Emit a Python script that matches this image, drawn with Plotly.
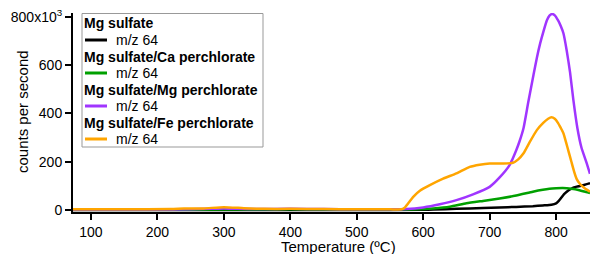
import plotly.graph_objects as go

# ---------------- data (counts per second, in units of 10^3) ----------------
series_names = ["Mg sulfate", "Mg sulfate/Ca perchlorate",
                "Mg sulfate/Mg perchlorate", "Mg sulfate/Fe perchlorate"]
item_label = "m/z 64"
colors = ["#000000", "#00a000", "#a035ff", "#ffa500"]

t_black = [73, 200, 300, 400, 500, 600, 615, 650, 690, 715, 740, 765, 780, 793,
           800, 804, 808, 812, 816, 820, 824, 827, 831, 836, 842, 851]
v_black = [0, 0, 0, 0, 0, 1, 2, 5, 9, 11, 13, 16, 19, 22,
           28, 38, 52, 66, 76, 84, 90, 94, 97, 100, 104, 111]

t_green = [73, 200, 300, 400, 500, 560, 590, 615, 640, 665, 690, 715, 740, 765,
           780, 790, 800, 810, 823, 835, 845, 851]
v_green = [1, 1, 2, 3, 2, 2, 3, 7, 14, 28, 38, 48, 60, 76,
           84, 88, 90, 91, 88, 82, 75, 71]

t_purple = [73, 200, 250, 280, 300, 320, 350, 400, 450, 500, 550, 575, 600, 625,
            650, 675, 700, 715, 730, 740, 745, 751, 758, 766, 771, 776, 781, 786,
            790, 794, 798, 803, 807, 811, 816, 821, 826, 832, 838, 846, 851]
v_purple = [2, 2, 3, 5, 7, 5, 4, 5, 4, 3, 3, 4, 11, 24,
            41, 65, 96, 135, 186, 248, 285, 340, 445, 560, 630, 690, 740, 785,
            805, 812, 806, 785, 762, 732, 660, 570, 455, 340, 260, 194, 150]

t_orange = [73, 150, 220, 240, 270, 300, 330, 360, 400, 450, 500, 550, 567, 572,
            578, 585, 595, 610, 630, 650, 670, 685, 700, 720, 735, 743, 751, 760,
            771, 781, 788, 793, 798, 803, 807, 811, 815, 819, 823, 827, 831, 836,
            843, 851]
v_orange = [3, 3, 4, 6, 7, 12, 8, 5, 5, 4, 3, 3, 3, 10,
            30, 55, 80, 103, 130, 152, 179, 188, 193, 193, 196, 210, 235, 280,
            331, 362, 378, 384, 378, 360, 340, 318, 280, 240, 200, 160, 128, 108,
            90, 76]

x_tickvals = [100, 200, 300, 400, 500, 600, 700, 800]
y_tickvals = [0, 200, 400, 600, 800]
y_ticktext = ["0", "200", "400", "600", "800x10<sup>3</sup>"]

x_title = "Temperature (ºC)"
y_title = "counts per second"

# ---------------- figure ----------------
W, H = 590, 254
L, R, T, B = 73, 0, 13, 42
PW, PH = W - L - R, H - T - B
FONT = "Liberation Sans, Arial, sans-serif"


def px(x):
    return (x - L) / PW


def py(y):
    return (H - B - y) / PH


fig = go.Figure()
all_t = [t_black, t_green, t_purple, t_orange]
all_v = [v_black, v_green, v_purple, v_orange]
for name, col, tt, vv in zip(series_names, colors, all_t, all_v):
    fig.add_trace(go.Scatter(x=tt, y=vv, mode="lines", name=name,
                             line=dict(color=col, width=2.5, shape="spline",
                                       smoothing=0.5),
                             showlegend=False, hoverinfo="skip"))

axis_common = dict(showline=True, linecolor="black", linewidth=2,
                   ticks="outside", ticklen=6, tickwidth=1.5, tickcolor="black",
                   showgrid=False, zeroline=False, automargin=False,
                   tickfont=dict(family=FONT, size=14, color="black"))

fig.update_xaxes(range=[73, 851], tickvals=x_tickvals, **axis_common)
fig.update_yaxes(range=[-8, 816], tickvals=y_tickvals, ticktext=y_ticktext,
                 **axis_common)

annotations = []
shapes = []
# axis titles
annotations.append(dict(text=x_title, xref="paper", yref="paper",
                        x=px(338), y=py(246.5), xanchor="center", yanchor="middle",
                        showarrow=False,
                        font=dict(family=FONT, size=15, color="black")))
annotations.append(dict(text=y_title, xref="paper", yref="paper",
                        x=px(22), y=py(112), xanchor="center", yanchor="middle",
                        textangle=-90, showarrow=False,
                        font=dict(family=FONT, size=15, color="black")))

# legend box
shapes.append(dict(type="rect", xref="paper", yref="paper",
                   x0=px(82), x1=px(263), y0=py(13.5), y1=py(147),
                   line=dict(color="#999999", width=1), fillcolor="white",
                   layer="above"))
for i, (name, col) in enumerate(zip(series_names, colors)):
    ty = 23.5 + 33 * i
    iy = ty + 16.5
    annotations.append(dict(text="<b>" + name + "</b>", xref="paper", yref="paper",
                            x=px(81.5), y=py(ty), xanchor="left", yanchor="middle",
                            showarrow=False,
                            font=dict(family=FONT, size=14, color="black")))
    shapes.append(dict(type="line", xref="paper", yref="paper",
                       x0=px(85), x1=px(107), y0=py(iy), y1=py(iy),
                       line=dict(color=col, width=3), layer="above"))
    annotations.append(dict(text=item_label, xref="paper", yref="paper",
                            x=px(114), y=py(iy), xanchor="left", yanchor="middle",
                            showarrow=False,
                            font=dict(family=FONT, size=14, color="black")))

fig.update_layout(width=W, height=H,
                  margin=dict(l=L, r=R, t=T, b=B, pad=0),
                  plot_bgcolor="white", paper_bgcolor="white",
                  showlegend=False, annotations=annotations, shapes=shapes,
                  hovermode=False,
                  font=dict(family=FONT, size=14, color="black"))

fig.write_html("out.html", config={"displayModeBar": False},
               post_script="document.body.style.margin='0';"
                           "document.body.style.overflow='hidden';")
